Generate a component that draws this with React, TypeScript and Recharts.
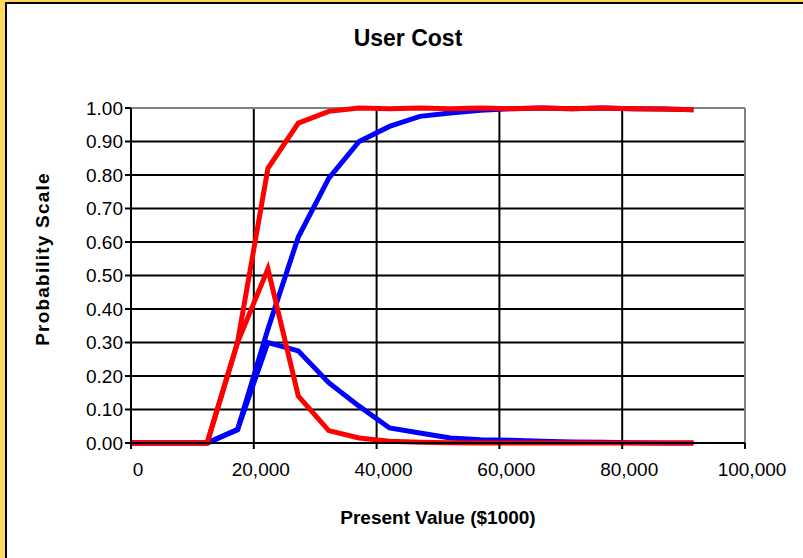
import React from 'react';
import { LineChart, Line, XAxis, YAxis, CartesianGrid, ReferenceLine } from 'recharts';

// present value ($1000) at each sample point
const presentValues = [0, 2500, 7450, 12400, 17350, 22300, 27250, 32200, 37150, 42100, 47050, 52000, 56950, 61900, 66850, 71800, 76750, 81700, 86650, 91600];

const bluePdf = [0, 0, 0, 0, 0.04, 0.30, 0.275, 0.18, 0.11, 0.045, 0.03, 0.015, 0.01, 0.008, 0.005, 0.003, 0.002, 0.001, 0, 0];
const blueCdf = [0, 0, 0, 0, 0.04, 0.34, 0.615, 0.79, 0.90, 0.945, 0.975, 0.985, 0.993, 0.998, 1.0, 0.998, 1.0, 0.998, 0.997, 0.995];
const redPdf = [0, 0, 0, 0, 0.30, 0.52, 0.14, 0.037, 0.015, 0.005, 0.002, 0.001, 0, 0, 0, 0, 0, 0, 0, 0];
const redCdf = [0, 0, 0, 0, 0.30, 0.82, 0.955, 0.99, 1.0, 0.998, 1.0, 0.998, 1.0, 0.998, 1.0, 0.998, 1.0, 0.998, 0.997, 0.995];

const xTicks = [0, 20000, 40000, 60000, 80000, 100000];
const yTicks = [0, 0.1, 0.2, 0.3, 0.4, 0.5, 0.6, 0.7, 0.8, 0.9, 1.0];

const data = presentValues.map((x, i) => ({
  x,
  bluePdf: bluePdf[i],
  blueCdf: blueCdf[i],
  redPdf: redPdf[i],
  redCdf: redCdf[i],
}));

const font = '"Liberation Sans", Arial, sans-serif';

const App: React.FC = () => {
  return (
    <div style={{ position: 'absolute', left: 0, top: 0, width: 803, height: 558, background: '#FFD75E', fontFamily: font }}>
      <div
        style={{
          position: 'absolute',
          left: 5,
          top: 2,
          right: 0,
          bottom: 0,
          background: '#fff',
          borderLeft: '2px solid #000',
          borderTop: '2px solid #000',
        }}
      />
      <div style={{ position: 'absolute', left: 0, top: 25, width: 816, textAlign: 'center', fontSize: 23, fontWeight: 'bold' }}>
        User Cost
      </div>
      <div
        style={{
          position: 'absolute',
          left: 43,
          top: 259,
          transform: 'translate(-50%, -50%) rotate(-90deg)',
          whiteSpace: 'nowrap',
          fontSize: 19,
          fontWeight: 'bold',
          letterSpacing: 1.2,
        }}
      >
        Probability Scale
      </div>
      <div style={{ position: 'absolute', left: 131, top: 507, width: 614, textAlign: 'center', fontSize: 19, fontWeight: 'bold' }}>
        Present Value ($1000)
      </div>
      <div style={{ position: 'absolute', left: 0, top: 0 }}>
        <LineChart width={803} height={558} data={data} margin={{ top: 108, right: 58, bottom: 0, left: 0 }}>
          <CartesianGrid stroke="#000" strokeWidth={2} horizontal vertical />
          <XAxis
            type="number"
            dataKey="x"
            domain={[0, 100000]}
            ticks={xTicks}
            height={115}
            stroke="#000"
            strokeWidth={2}
            tickSize={6}
            tickMargin={14}
            tick={{ fontSize: 19, fill: '#000', fontFamily: font, dx: 7 }}
            tickFormatter={(v: number) => v.toLocaleString('en-US')}
          />
          <YAxis
            type="number"
            domain={[0, 1]}
            ticks={yTicks}
            width={131}
            stroke="#000"
            strokeWidth={2}
            tickSize={6}
            tickMargin={2}
            tick={{ fontSize: 19, fill: '#000', fontFamily: font }}
            tickFormatter={(v: number) => v.toFixed(2)}
          />
          <ReferenceLine y={1} stroke="#808080" strokeWidth={2} />
          <ReferenceLine x={100000} stroke="#808080" strokeWidth={2} />
          <Line type="linear" dataKey="bluePdf" stroke="#0000FF" strokeWidth={5} dot={false} isAnimationActive={false} />
          <Line type="linear" dataKey="blueCdf" stroke="#0000FF" strokeWidth={5} dot={false} isAnimationActive={false} />
          <Line type="linear" dataKey="redPdf" stroke="#FF0000" strokeWidth={5} dot={false} isAnimationActive={false} />
          <Line type="linear" dataKey="redCdf" stroke="#FF0000" strokeWidth={5} dot={false} isAnimationActive={false} />
        </LineChart>
      </div>
    </div>
  );
};

export default App;
